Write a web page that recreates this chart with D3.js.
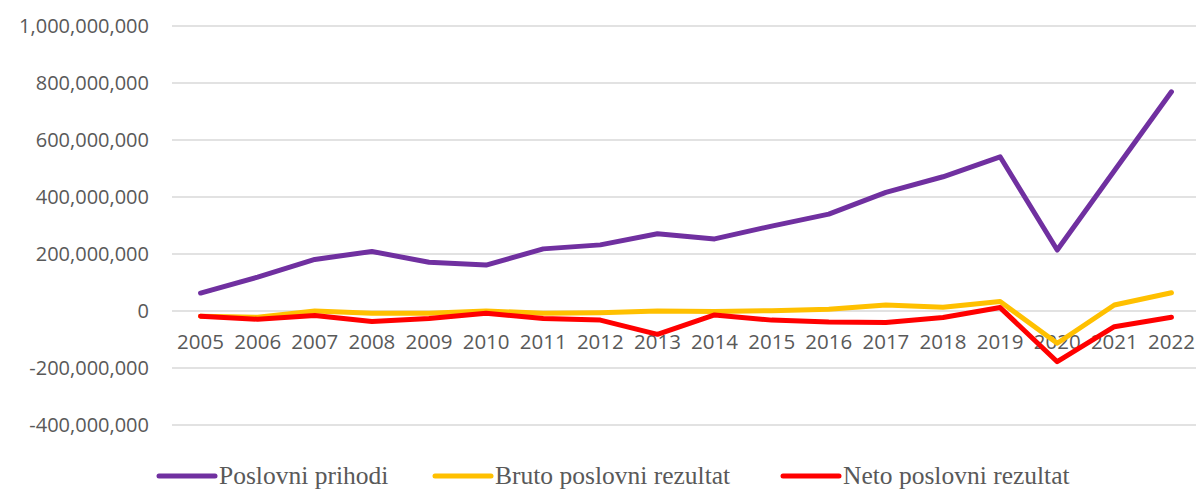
<!DOCTYPE html>
<html>
<head lang="en">
	<meta charset="UTF-8">
	<title></title>
	<script src="https://cdn.jsdelivr.net/npm/d3@7"></script>
	<style>
		body { margin: 0; background: #fff; }
	</style>
</head>
<body>

<script>

	// data
	var years = ["2005", "2006", "2007", "2008", "2009", "2010", "2011", "2012", "2013",
		"2014", "2015", "2016", "2017", "2018", "2019", "2020", "2021", "2022"];

	var poslovniPrihodi = [63e6, 119e6, 181e6, 209e6, 171e6, 161e6, 218e6, 232e6, 271e6,
		253e6, 298e6, 340e6, 416e6, 471e6, 541e6, 214e6, 492e6, 769e6];

	var brutoRezultat = [-18e6, -22e6, 0, -8e6, -8e6, 0, -8e6, -6e6, 0,
		-2e6, 1e6, 6e6, 21e6, 13e6, 33e6, -113e6, 21e6, 64e6];

	var netoRezultat = [-18e6, -29e6, -16e6, -37e6, -26e6, -8e6, -26e6, -32e6, -82e6,
		-14e6, -32e6, -39e6, -40e6, -23e6, 12e6, -178e6, -55e6, -22e6];

	var yTicks = [-400e6, -200e6, 0, 200e6, 400e6, 600e6, 800e6, 1000e6];

	var series = [
		{ name: "Poslovni prihodi", values: poslovniPrihodi, color: "#7030a0" },
		{ name: "Bruto poslovni rezultat", values: brutoRezultat, color: "#ffc000" },
		{ name: "Neto poslovni rezultat", values: netoRezultat, color: "#ff0000" }
	];

	var W = 1196, H = 489;
	var svg = d3.select("body").append("svg").attr("width", W).attr("height", H);

	var x = d3.scalePoint().domain(years).range([172, 1200]).padding(0.5);
	var y = d3.scaleLinear().domain([-400e6, 1000e6]).range([425, 26]);
	var fmt = d3.format(",");

	// gridlines
	svg.append("g").selectAll("line").data(yTicks).enter().append("line")
		.attr("x1", 172).attr("x2", W)
		.attr("y1", function (d) { return y(d); })
		.attr("y2", function (d) { return y(d); })
		.style("stroke", "#d9d9d9").style("stroke-width", 1.5);

	// y labels (plain hyphen for negatives)
	svg.append("g").selectAll("text").data(yTicks).enter().append("text")
		.attr("x", 149)
		.attr("y", function (d) { return y(d); })
		.attr("dy", "0.35em")
		.attr("text-anchor", "end")
		.style("font-family", "'Open Sans', sans-serif")
		.style("font-size", "20px")
		.style("fill", "#595959")
		.text(function (d) { return fmt(d).replace("\u2212", "-"); });

	// x labels, next to the zero line
	svg.append("g").selectAll("text").data(years).enter().append("text")
		.attr("x", function (d) { return x(d); })
		.attr("y", y(0) + 38)
		.attr("text-anchor", "middle")
		.style("font-family", "'Open Sans', sans-serif")
		.style("font-size", "20.5px")
		.style("fill", "#595959")
		.text(function (d) { return d; });

	var line = d3.line()
		.x(function (d, i) { return x(years[i]); })
		.y(function (d) { return y(d); });

	svg.append("g").selectAll("path").data(series).enter().append("path")
		.attr("d", function (s) { return line(s.values); })
		.style("fill", "none")
		.style("stroke", function (s) { return s.color; })
		.style("stroke-width", 5)
		.style("stroke-linejoin", "round")
		.style("stroke-linecap", "round");

	// legend
	var legendX = [159, 435, 783];
	var lg = svg.append("g").selectAll("g").data(series).enter().append("g")
		.attr("transform", function (s, i) { return "translate(" + legendX[i] + ",476)"; });

	lg.append("line")
		.attr("x1", 0).attr("x2", 56)
		.style("stroke", function (s) { return s.color; })
		.style("stroke-width", 5)
		.style("stroke-linecap", "round");

	lg.append("text")
		.attr("x", 60)
		.attr("y", 8)
		.style("font-family", "'Liberation Serif', serif")
		.style("font-size", "25.5px")
		.style("fill", "#595959")
		.text(function (s) { return s.name; });

</script>

</body>
</html>
